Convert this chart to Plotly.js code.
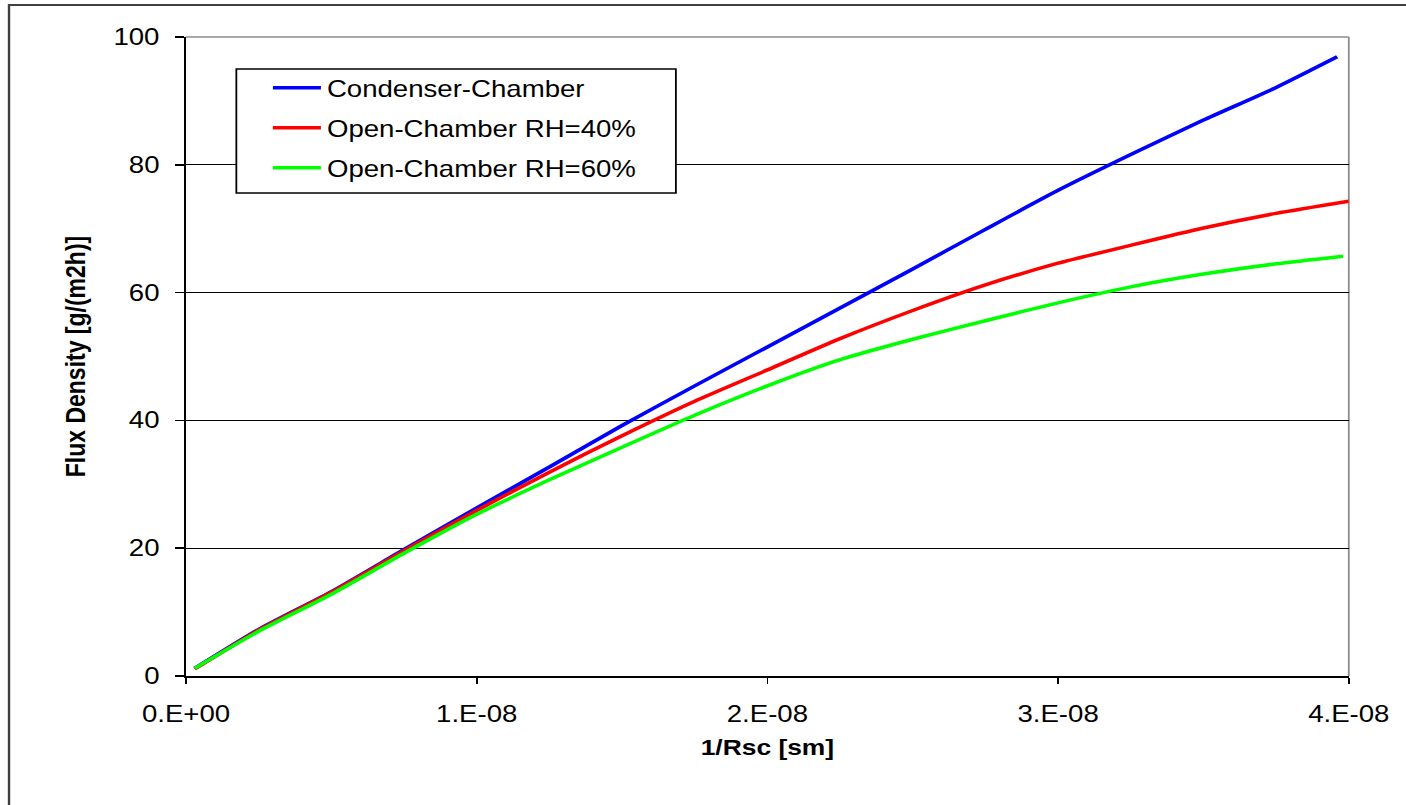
<!DOCTYPE html>
<html>
<head>
<meta charset="utf-8">
<script src="https://cdn.plot.ly/plotly-3.0.1.min.js"></script>
<style>
  html, body { margin: 0; padding: 0; background: #ffffff; overflow: hidden; }
  #chart { width: 1172px; height: 805px; transform: scaleX(1.2); transform-origin: 0 0; }
</style>
</head>
<body>
<div id="chart"></div>
<script>
// ---- data (x in s/m units, y in g/(m2h)) ----
const condX = [0.03e-8, 0.25e-8, 0.5e-8, 0.75e-8, 1.0e-8, 1.25e-8, 1.5e-8, 1.75e-8, 2.0e-8, 2.25e-8, 2.5e-8, 2.75e-8, 3.0e-8, 3.25e-8, 3.5e-8, 3.75e-8, 3.96e-8];
const condY = [1.2, 7.3, 13.2, 19.8, 26.3, 32.7, 39.2, 45.4, 51.5, 57.6, 63.7, 69.9, 76.0, 81.6, 87.0, 92.1, 96.9];

const rh40X = [0.03e-8, 0.25e-8, 0.5e-8, 0.75e-8, 1.0e-8, 1.25e-8, 1.5e-8, 1.75e-8, 2.0e-8, 2.25e-8, 2.5e-8, 2.75e-8, 3.0e-8, 3.25e-8, 3.5e-8, 3.75e-8, 4.0e-8];
const rh40Y = [1.1, 7.2, 13.1, 19.6, 25.9, 31.9, 37.6, 43.0, 47.9, 52.8, 57.2, 61.2, 64.6, 67.4, 70.1, 72.4, 74.3];

const rh60X = [0.03e-8, 0.25e-8, 0.5e-8, 0.75e-8, 1.0e-8, 1.25e-8, 1.5e-8, 1.75e-8, 2.0e-8, 2.25e-8, 2.5e-8, 2.75e-8, 3.0e-8, 3.25e-8, 3.5e-8, 3.75e-8, 3.98e-8];
const rh60Y = [1.2, 7.0, 12.8, 19.2, 25.3, 30.7, 35.8, 40.8, 45.4, 49.5, 52.7, 55.6, 58.4, 60.9, 62.9, 64.5, 65.7];

const seriesNames = ['Condenser-Chamber', 'Open-Chamber RH=40%', 'Open-Chamber RH=60%'];
const xTickVals = [0, 1e-8, 2e-8, 3e-8, 4e-8];
const xTickText = ['0.E+00', '1.E-08', '2.E-08', '3.E-08', '4.E-08'];
const yTickVals = [0, 20, 40, 60, 80, 100];
const yTickText = ['0', '20', '40', '60', '80', '100'];
const xTitle = '1/Rsc [sm]';
const yTitle = 'Flux Density [g/(m2h)]';

const FONT = 'Liberation Sans, Arial, sans-serif';

const traces = [
  { x: condX, y: condY, name: seriesNames[0], legendgroup: 'a', mode: 'lines', line: { color: '#0000FF', width: 3.5, shape: 'spline', smoothing: 0.6 } },
  { x: rh40X, y: rh40Y, name: seriesNames[1], legendgroup: 'b', mode: 'lines', line: { color: '#FF0000', width: 3.5, shape: 'spline', smoothing: 0.6 } },
  { x: rh60X, y: rh60Y, name: seriesNames[2], legendgroup: 'c', mode: 'lines', line: { color: '#00FF00', width: 3.5, shape: 'spline', smoothing: 0.6 } }
];

const layout = {
  width: 1172,
  height: 805,
  margin: { l: 155, r: 48, t: 37, b: 129, pad: 0 },
  paper_bgcolor: '#ffffff',
  plot_bgcolor: '#ffffff',
  font: { family: FONT, size: 23, color: '#000000' },
  showlegend: true,
  hovermode: false,
  xaxis: {
    range: [0, 4e-8],
    tickmode: 'array',
    tickvals: xTickVals,
    ticktext: xTickText,
    ticks: 'outside',
    ticklen: 6,
    tickwidth: 1.5,
    tickcolor: '#000000',
    ticklabelstandoff: 10,
    showgrid: false,
    zeroline: false,
    showline: true,
    linecolor: '#000000',
    linewidth: 2,
    tickfont: { family: FONT, size: 23, color: '#000000' },
    title: { text: xTitle, font: { family: FONT, size: 22, color: '#000000', weight: 'bold' }, standoff: 14 },
    automargin: false
  },
  yaxis: {
    range: [0, 100],
    tickmode: 'array',
    tickvals: yTickVals,
    ticktext: yTickText,
    ticks: 'outside',
    ticklen: 7.5,
    tickwidth: 1.5,
    tickcolor: '#000000',
    ticklabelstandoff: 8,
    showgrid: true,
    gridcolor: '#000000',
    gridwidth: 1,
    zeroline: false,
    showline: true,
    linecolor: '#000000',
    linewidth: 2,
    tickfont: { family: FONT, size: 23, color: '#000000' },
    title: { text: yTitle, font: { family: FONT, size: 23, color: '#000000', weight: 'bold' }, standoff: 17 },
    automargin: false
  },
  legend: {
    x: 0.0696,
    y: 0.954,
    xanchor: 'left',
    yanchor: 'top',
    bgcolor: 'rgba(0,0,0,0)',
    borderwidth: 0,
    itemwidth: 40,
    traceorder: 'grouped',
    tracegroupgap: 7,
    font: { family: FONT, size: 23, color: '#000000' }
  },
  shapes: [
    // top and right plot border (gray)
    { type: 'line', xref: 'paper', yref: 'paper', x0: 0, x1: 1, y0: 1, y1: 1, line: { color: '#8c8c8c', width: 1.5 }, layer: 'above' },
    { type: 'line', xref: 'paper', yref: 'paper', x0: 1, x1: 1, y0: 0, y1: 1, line: { color: '#8c8c8c', width: 1.5 }, layer: 'below' },
    // legend box
    { type: 'rect', xref: 'paper', yref: 'paper', x0: 0.0433, x1: 0.4213, y0: 0.7559, y1: 0.9499, fillcolor: '#ffffff', line: { color: '#000000', width: 1.5 }, layer: 'above' },
    // outer chart frame
    { type: 'rect', xref: 'paper', yref: 'paper', x0: -0.1522, x1: 1.2, y0: -0.4, y1: 1.0501, fillcolor: 'rgba(0,0,0,0)', line: { color: '#404040', width: 2 }, layer: 'below' }
  ]
};

Plotly.newPlot('chart', traces, layout, { displayModeBar: false, staticPlot: true });
</script>
</body>
</html>
